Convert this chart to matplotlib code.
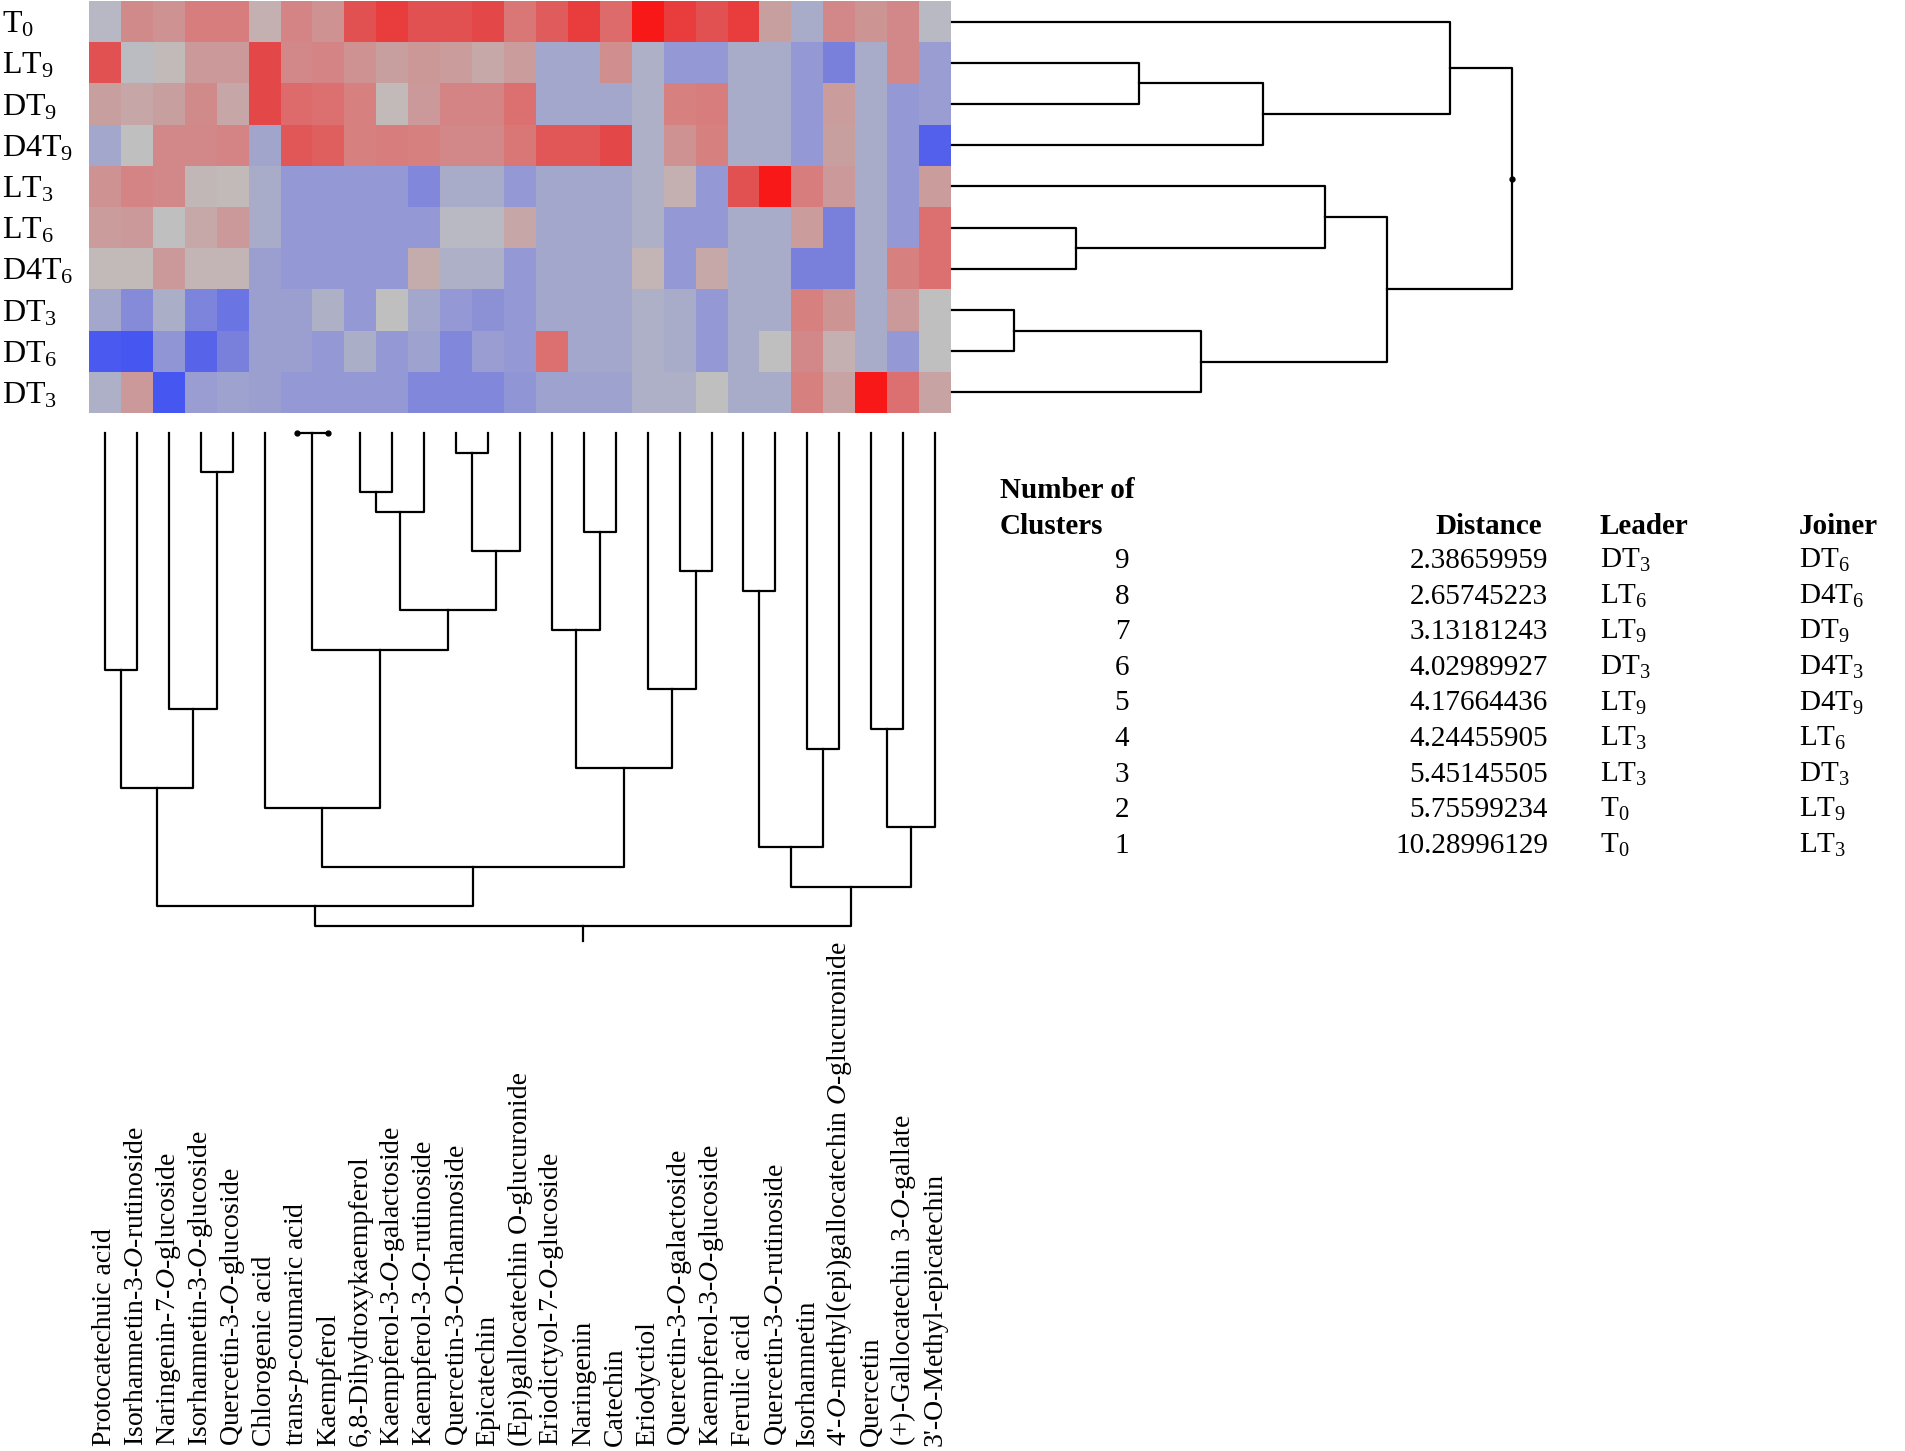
import numpy as np
import matplotlib
matplotlib.use("Agg")
import matplotlib.pyplot as plt
from matplotlib.colors import LinearSegmentedColormap
from matplotlib.transforms import blended_transform_factory

plt.rcParams['font.family'] = ['Liberation Serif', 'DejaVu Serif']
plt.rcParams['mathtext.fontset'] = 'custom'
plt.rcParams['mathtext.rm'] = 'Liberation Serif'
plt.rcParams['mathtext.it'] = 'Liberation Serif:italic'
plt.rcParams['mathtext.bf'] = 'Liberation Serif:bold'
plt.rcParams['mathtext.default'] = 'regular'

# ---------------- data ----------------
row_keys = ['T0', 'LT9', 'DT9', 'D4T9', 'LT3', 'LT6', 'D4T6', 'DT3', 'DT6', 'D4T3']
row_labels = ['T$_0$', 'LT$_9$', 'DT$_9$', 'D4T$_9$', 'LT$_3$', 'LT$_6$', 'D4T$_6$',
              'DT$_3$', 'DT$_6$', 'DT$_3$']

col_labels = [
    "Protocatechuic acid",
    "Isorhamnetin-3-$\\mathit{O}$-rutinoside",
    "Naringenin-7-$\\mathit{O}$-glucoside",
    "Isorhamnetin-3-$\\mathit{O}$-glucoside",
    "Quercetin-3-$\\mathit{O}$-glucoside",
    "Chlorogenic acid",
    "trans-$\\mathit{p}$-coumaric acid",
    "Kaempferol",
    "6,8-Dihydroxykaempferol",
    "Kaempferol-3-$\\mathit{O}$-galactoside",
    "Kaempferol-3-$\\mathit{O}$-rutinoside",
    "Quercetin-3-$\\mathit{O}$-rhamnoside",
    "Epicatechin",
    "(Epi)gallocatechin O-glucuronide",
    "Eriodictyol-7-$\\mathit{O}$-glucoside",
    "Naringenin",
    "Catechin",
    "Eriodyctiol",
    "Quercetin-3-$\\mathit{O}$-galactoside",
    "Kaempferol-3-$\\mathit{O}$-glucoside",
    "Ferulic acid",
    "Quercetin-3-$\\mathit{O}$-rutinoside",
    "Isorhamnetin",
    "4'-$\\mathit{O}$-methyl(epi)gallocatechin $\\mathit{O}$-glucuronide",
    "Quercetin",
    "(+)-Gallocatechin 3-$\\mathit{O}$-gallate",
    "3'-O-Methyl-epicatechin",
]

values = np.array([
    [-0.10, 0.40, 0.35, 0.50, 0.50, 0.12, 0.45, 0.35, 0.75, 0.85, 0.75, 0.75, 0.80, 0.55, 0.70, 0.85, 0.62, 1.00, 0.85, 0.75, 0.85, 0.25, -0.25, 0.42, 0.33, 0.42, -0.08],
    [0.75, -0.05, 0.05, 0.30, 0.30, 0.80, 0.42, 0.45, 0.35, 0.25, 0.32, 0.28, 0.18, 0.28, -0.30, -0.30, 0.38, -0.20, -0.45, -0.45, -0.25, -0.25, -0.45, -0.70, -0.25, 0.42, -0.40],
    [0.25, 0.20, 0.25, 0.40, 0.20, 0.80, 0.62, 0.60, 0.48, 0.05, 0.30, 0.45, 0.45, 0.60, -0.30, -0.30, -0.30, -0.20, 0.48, 0.50, -0.25, -0.25, -0.45, 0.28, -0.25, -0.45, -0.40],
    [-0.30, 0.00, 0.42, 0.42, 0.45, -0.32, 0.72, 0.68, 0.48, 0.50, 0.48, 0.42, 0.42, 0.55, 0.72, 0.72, 0.80, -0.20, 0.35, 0.48, -0.25, -0.25, -0.45, 0.25, -0.25, -0.45, -0.90],
    [0.35, 0.45, 0.42, 0.07, 0.05, -0.25, -0.45, -0.45, -0.45, -0.45, -0.62, -0.25, -0.25, -0.45, -0.30, -0.30, -0.30, -0.20, 0.12, -0.45, 0.75, 1.00, 0.50, 0.30, -0.25, -0.45, 0.28],
    [0.28, 0.30, 0.00, 0.18, 0.30, -0.25, -0.45, -0.45, -0.45, -0.45, -0.45, -0.08, -0.08, 0.20, -0.30, -0.30, -0.30, -0.20, -0.45, -0.45, -0.25, -0.25, 0.28, -0.70, -0.25, -0.45, 0.60],
    [0.05, 0.05, 0.30, 0.08, 0.08, -0.38, -0.45, -0.45, -0.45, -0.45, 0.15, -0.20, -0.20, -0.45, -0.30, -0.30, -0.30, 0.08, -0.45, 0.18, -0.25, -0.25, -0.70, -0.70, -0.25, 0.48, 0.60],
    [-0.30, -0.58, -0.22, -0.65, -0.78, -0.38, -0.38, -0.18, -0.45, 0.00, -0.30, -0.45, -0.52, -0.45, -0.30, -0.30, -0.30, -0.20, -0.25, -0.45, -0.25, -0.25, 0.48, 0.33, -0.25, 0.30, 0.00],
    [-0.95, -0.97, -0.48, -0.88, -0.70, -0.38, -0.38, -0.45, -0.22, -0.45, -0.35, -0.62, -0.40, -0.45, 0.60, -0.30, -0.30, -0.20, -0.25, -0.45, -0.25, 0.00, 0.42, 0.12, -0.25, -0.45, 0.00],
    [-0.20, 0.30, -0.97, -0.40, -0.35, -0.38, -0.45, -0.45, -0.45, -0.45, -0.62, -0.62, -0.62, -0.48, -0.35, -0.35, -0.35, -0.20, -0.20, 0.00, -0.25, -0.25, 0.48, 0.22, 1.00, 0.60, 0.22],
])

# agglomeration table of the rows (Number of clusters, distance, leader, joiner)
n_clusters = [9, 8, 7, 6, 5, 4, 3, 2, 1]
distances = ["2.38659959", "2.65745223", "3.13181243", "4.02989927", "4.17664436",
             "4.24455905", "5.45145505", "5.75599234", "10.28996129"]
leaders = ['DT3', 'LT6', 'LT9', 'DT3', 'LT9', 'LT3', 'LT3', 'T0', 'T0']
joiners = ['DT6', 'D4T6', 'DT9', 'D4T3', 'D4T9', 'LT6', 'DT3', 'LT9', 'LT3']

# column clustering: merges in order (leader column, joiner column)
col_merges = [(6, 7), (11, 12), (3, 4), (8, 9), (8, 10), (15, 16), (11, 13), (18, 19),
              (20, 21), (8, 11), (14, 15), (6, 8), (0, 1), (17, 18), (2, 3), (24, 25),
              (22, 23), (14, 17), (0, 2), (5, 6), (24, 26), (20, 22), (5, 14), (20, 24),
              (0, 5), (0, 20)]

cmap_vals = [-1.0, -0.7, -0.45, -0.25, 0.0, 0.25, 0.45, 0.6, 0.8, 1.0]
cmap_cols = ['#4252f2', '#7880dc', '#9498d4', '#a8acc8', '#c0c0c0',
             '#c8a0a0', '#d48484', '#dc7070', '#e44848', '#f81818']

# ---------------- figure ----------------
W, H = 1905, 1451
fig = plt.figure(figsize=(W / 100, H / 100), dpi=100)
fig.patch.set_facecolor('white')


def px_axes(x0, y0, x1, y1):
    ax = fig.add_axes([x0 / W, 1 - y1 / H, (x1 - x0) / W, (y1 - y0) / H])
    ax.set_axis_off()
    return ax


def sub(key):
    return key[:-1] + '$_{' + key[-1] + '}$'


cmap = LinearSegmentedColormap.from_list(
    'bgr', [((v + 1) / 2, c) for v, c in zip(cmap_vals, cmap_cols)])

nr, nc = values.shape
ax_heat = px_axes(89, 1, 951, 413)
ax_heat.pcolormesh(np.arange(nc + 1), np.arange(nr + 1), values, cmap=cmap,
                   vmin=-1, vmax=1, shading='flat')
ax_heat.set_xlim(0, nc)
ax_heat.set_ylim(nr, 0)

LW = 1.6


def draw_tree(ax, merges, heights, n, vertical):
    owner = list(range(n))
    members = {i: [i] for i in range(n)}
    info = {i: (i + 0.5, 0.0) for i in range(n)}
    for (a, b), ht in zip(merges, heights):
        ca, cb = owner[a], owner[b]
        pa, ha = info[ca]
        pb, hb = info[cb]
        p = [pa, pa, pb, pb]
        h = [ha, ht, ht, hb]
        if vertical:
            ax.plot(p, h, color='black', lw=LW, clip_on=False)
        else:
            ax.plot(h, p, color='black', lw=LW, clip_on=False)
        if ht == 0:
            if vertical:
                ax.plot([pa, pb], [ht, ht], 'o', color='black', ms=3.5, clip_on=False)
            else:
                ax.plot([ht, ht], [pa, pb], 'o', color='black', ms=3.5, clip_on=False)
        for m in members[cb]:
            owner[m] = ca
        members[ca] += members.pop(cb)
        info[ca] = ((pa + pb) / 2, ht)
    return info[owner[0]]


# row dendrogram (right)
ax_row = px_axes(952, 1, 1905, 413)
row_merges = [(row_keys.index(a), row_keys.index(b)) for a, b in zip(leaders, joiners)]
row_heights = [nr - k for k in n_clusters]
rp, rh = draw_tree(ax_row, row_merges, row_heights, nr, vertical=False)
ax_row.plot([rh], [rp], 'o', color='black', ms=3.5, clip_on=False)
ax_row.set_ylim(nr, 0)
ax_row.set_xlim(0, (1905 - 952) / 62.2)

# column dendrogram (below)
ax_col = px_axes(89, 420, 951, 960)
col_heights = list(range(len(col_merges)))
cp, ch = draw_tree(ax_col, col_merges, col_heights, nc, vertical=True)
ax_col.plot([cp, cp], [ch, ch + 0.76], color='black', lw=LW, clip_on=False)
ax_col.set_xlim(0, nc)
ax_col.set_ylim((960 - 433) / 19.72, (420 - 433) / 19.72)

# row labels
tr_row = blended_transform_factory(fig.transFigure, ax_heat.transData)
for i, lab in enumerate(row_labels):
    fig.text(2 / W, i + 0.77, lab, transform=tr_row, fontsize=23,
             ha='left', va='baseline')

# column labels
tr_col = blended_transform_factory(ax_heat.transData, fig.transFigure)
for j, lab in enumerate(col_labels):
    fig.text(j + 0.5, 1 - 1446 / H, lab, transform=tr_col, fontsize=20,
             rotation=90, ha='center', va='bottom')

# agglomeration table


def fx(x):
    return x / W


def fy(y):
    return 1 - y / H


TS = 21
fig.text(fx(1000), fy(498), "Number of", fontsize=TS, fontweight='bold', ha='left', va='baseline')
fig.text(fx(1000), fy(534), "Clusters", fontsize=TS, fontweight='bold', ha='left', va='baseline')
fig.text(fx(1542), fy(534), "Distance", fontsize=TS, fontweight='bold', ha='right', va='baseline')
fig.text(fx(1600), fy(534), "Leader", fontsize=TS, fontweight='bold', ha='left', va='baseline')
fig.text(fx(1799), fy(534), "Joiner", fontsize=TS, fontweight='bold', ha='left', va='baseline')
for i, (k, d, l, j) in enumerate(zip(n_clusters, distances, leaders, joiners)):
    yb = 568 + 35.6 * i
    fig.text(fx(1122), fy(yb), str(k), fontsize=TS, ha='center', va='baseline')
    fig.text(fx(1548), fy(yb), d, fontsize=TS, ha='right', va='baseline')
    fig.text(fx(1600), fy(yb), sub(l), fontsize=TS, ha='left', va='baseline')
    fig.text(fx(1799), fy(yb), sub(j), fontsize=TS, ha='left', va='baseline')

fig.savefig('out.png', dpi=100, facecolor='white')
